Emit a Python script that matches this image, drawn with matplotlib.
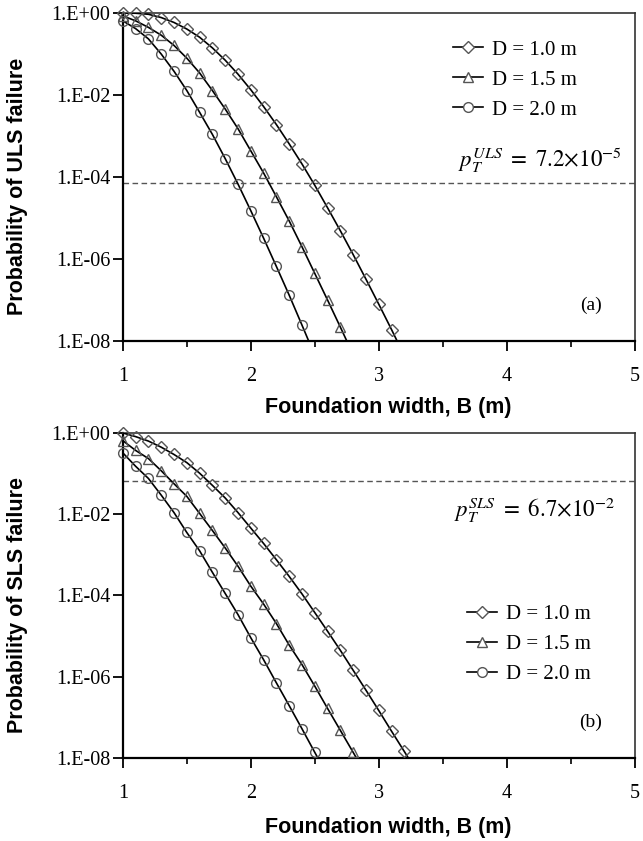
import numpy as np
import matplotlib
matplotlib.use('Agg')
import matplotlib.pyplot as plt
from matplotlib.lines import Line2D

# ---------------------- DATA (log10 of failure probability) ----------------------

depths = ['D = 1.0 m', 'D = 1.5 m', 'D = 2.0 m']
markers = ['D', '^', 'o']

B_start = 1.0
B_step = 0.1

# ULS, read every 0.1 m starting at B = 1.0 (last value lies just below the axis)
uls_d10 = [0.00, -0.005, -0.03, -0.11, -0.23, -0.39, -0.59, -0.85, -1.15, -1.49, -1.87,
           -2.28, -2.72, -3.19, -3.68, -4.20, -4.75, -5.31, -5.89, -6.49, -7.10, -7.72, -8.36]
uls_d15 = [-0.07, -0.19, -0.35, -0.54, -0.79, -1.10, -1.46, -1.89, -2.34, -2.82, -3.36,
           -3.90, -4.48, -5.07, -5.70, -6.35, -7.00, -7.66, -8.33]
uls_d20 = [-0.19, -0.38, -0.63, -1.00, -1.42, -1.89, -2.42, -2.96, -3.55, -4.17, -4.82,
           -5.49, -6.18, -6.88, -7.61, -8.35]

# SLS
sls_d10 = [0.00, -0.09, -0.20, -0.35, -0.53, -0.73, -0.99, -1.29, -1.60, -1.96, -2.34,
           -2.72, -3.12, -3.53, -3.96, -4.42, -4.88, -5.35, -5.84, -6.33, -6.83, -7.34,
           -7.84, -8.35]
sls_d15 = [-0.19, -0.43, -0.63, -0.93, -1.25, -1.56, -1.98, -2.40, -2.83, -3.28, -3.77,
           -4.21, -4.69, -5.22, -5.70, -6.23, -6.78, -7.32, -7.86, -8.41]
sls_d20 = [-0.49, -0.82, -1.12, -1.53, -1.96, -2.45, -2.90, -3.43, -3.95, -4.47, -5.04,
           -5.58, -6.15, -6.71, -7.28, -7.86, -8.44]

p_target_uls = 7.2e-5
p_target_sls = 6.7e-2

xticks = [1, 2, 3, 4, 5]
yticks = [1e0, 1e-2, 1e-4, 1e-6, 1e-8]
ytick_labels = ['1.E+00', '1.E-02', '1.E-04', '1.E-06', '1.E-08']

panels = [
    {'series': [uls_d10, uls_d15, uls_d20], 'target': p_target_uls,
     'ylabel': 'Probability of ULS failure',
     'note': r'$p_T^{ULS}\ =\ 7.2{\times}10^{-5}$', 'tag': '(a)'},
    {'series': [sls_d10, sls_d15, sls_d20], 'target': p_target_sls,
     'ylabel': 'Probability of SLS failure',
     'note': r'$p_T^{SLS}\ =\ 6.7{\times}10^{-2}$', 'tag': '(b)'},
]

# ---------------------- PLOT ----------------------

plt.rcParams['mathtext.fontset'] = 'stix'
serif = 'Liberation Serif'
sans = 'Liberation Sans'
mcol = '#555555'

fig = plt.figure(figsize=(6.43, 8.41), dpi=100)
ax_top = fig.add_axes([0.191, 0.5945, 0.796, 0.390])
ax_bot = fig.add_axes([0.191, 0.0987, 0.796, 0.3865])

layout = {
    'leg_anchor': [(0.645, 0.918), (0.672, 0.472)],
    'note_pos': [(0.975, 0.552), (0.961, 0.763)],
    'xlab_y': [-0.170, -0.181],
}

for k, (ax, panel) in enumerate(zip([ax_top, ax_bot], panels)):
    handles = []
    for vals, mk, lab in zip(panel['series'], markers, depths):
        B = B_start + B_step * np.arange(len(vals))
        P = 10.0 ** np.array(vals)
        ax.plot(B, P, color='black', lw=1.2, zorder=3)
        ax.plot(B[:-1], P[:-1], linestyle='none', marker=mk,
                ms=7 if mk != 'D' else 6, mfc='none', mec=mcol, mew=1.0,
                clip_on=False, zorder=4)
        handles.append(Line2D([], [], color='black', lw=1.2, marker=mk,
                              ms=7 if mk != 'D' else 6, mfc='white', mec=mcol, mew=1.0))

    ax.axhline(panel['target'], color='#555555', lw=1.0, ls=(0, (4, 2.5)), zorder=2)

    ax.set_yscale('log')
    ax.set_xlim(1, 5)
    ax.set_ylim(1e-8, 1)
    ax.set_xticks(xticks)
    ax.set_xticks([1.5, 2.5, 3.5, 4.5], minor=True)
    ax.set_xticklabels([str(t) for t in xticks], fontfamily=serif, fontsize=14.5)
    ax.set_yticks(yticks)
    ax.set_yticklabels(ytick_labels, fontfamily=serif, fontsize=14.5)
    ax.yaxis.set_minor_locator(matplotlib.ticker.NullLocator())
    ax.tick_params(axis='x', which='major', direction='out', length=7, width=1.3, pad=12)
    ax.tick_params(axis='x', which='minor', direction='out', length=4, width=1.2)
    ax.tick_params(axis='y', which='major', direction='out', length=7, width=1.3, pad=2)

    for side in ['left', 'bottom']:
        ax.spines[side].set_linewidth(1.6)
    for side in ['top', 'right']:
        ax.spines[side].set_linewidth(1.2)
        ax.spines[side].set_color('#333333')

    ax.set_ylabel(panel['ylabel'], fontfamily=sans, fontweight='bold', fontsize=15.5)
    ax.yaxis.set_label_coords(-0.185, 0.47)
    ax.set_xlabel('Foundation width, B (m)', fontfamily=sans, fontweight='bold', fontsize=15.5)
    ax.xaxis.set_label_coords(0.518, layout['xlab_y'][k])
    ax.xaxis.label.set_va('top')

    leg = ax.legend(handles, depths, loc='upper left', bbox_to_anchor=layout['leg_anchor'][k],
                    frameon=False, numpoints=1, handlelength=1.45, handletextpad=0.43,
                    labelspacing=0.5, borderpad=0, borderaxespad=0,
                    prop={'family': serif, 'size': 15})

    nx, ny = layout['note_pos'][k]
    ax.text(nx, ny, panel['note'], transform=ax.transAxes, ha='right', va='center',
            fontsize=16.5)
    ax.text(0.914, 0.11, panel['tag'], transform=ax.transAxes, ha='center', va='center',
            fontfamily=serif, fontsize=14)

fig.savefig('out.png', dpi=100)
